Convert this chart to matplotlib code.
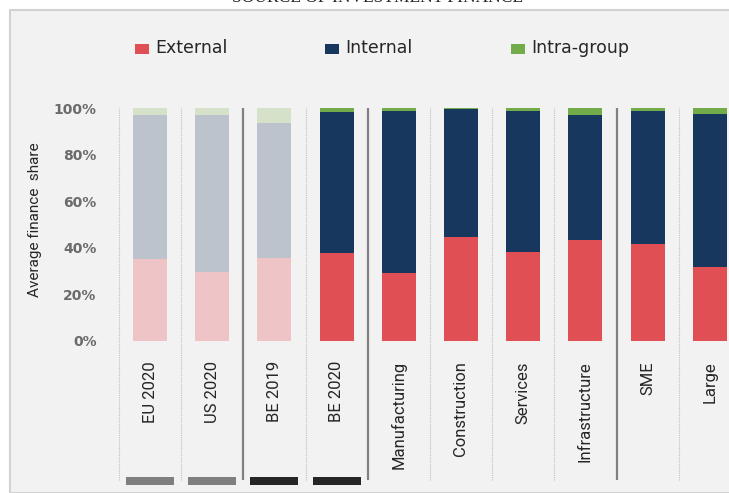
import matplotlib
matplotlib.use("Agg")
import matplotlib.pyplot as plt
from matplotlib.patches import Rectangle

# data (shares in %)
categories = ['EU 2020', 'US 2020', 'BE 2019', 'BE 2020', 'Manufacturing',
              'Construction', 'Services', 'Infrastructure', 'SME', 'Large']
external = [35.1, 29.8, 35.7, 37.8, 29.1, 44.6, 38.4, 43.4, 41.8, 31.7]
internal = [62.0, 67.4, 58.1, 60.7, 69.9, 55.0, 60.5, 53.7, 57.1, 66.0]
intra_group = [2.9, 2.8, 6.2, 1.5, 1.0, 0.4, 1.1, 2.9, 1.1, 2.3]
faded = [True, True, True, False, False, False, False, False, False, False]
groups = [0, 0, 1, 1, 2, 2, 2, 2, 3, 3]
y_ticks = [0, 20, 40, 60, 80, 100]
marker_colors = ['#7f7f7f', '#7f7f7f', '#262626', '#262626']
series_names = ['External', 'Internal', 'Intra-group']

COL_EXT = ('#e04f54', '#efc4c6')
COL_INT = ('#17375e', '#bcc3cc')
COL_INTRA = ('#72ab4a', '#d5e2c9')

W, H = 729, 493
fig = plt.figure(figsize=(W / 100, H / 100), dpi=100, facecolor='white')

# grey panel behind the chart
fig.patches.append(Rectangle((10 / W, 0), 1, 1 - 10 / H, transform=fig.transFigure,
                             facecolor='#f2f2f2', edgecolor='#d2d2d2', linewidth=1.5,
                             zorder=-5))
# title, mostly cropped off in the reference
fig.text(377 / W, 1 - 2 / H, 'SOURCE OF INVESTMENT FINANCE', ha='center', va='baseline',
         family='Liberation Serif', fontsize=12.5, color='#222222')

# axes geometry: 0% at y=341px, 100% at y=108px, category spacing 62.2px
px_per_pct = (341 - 108.3) / 100
px_per_cat = 62.2
ax_left, ax_right, ax_top, ax_bot = 105, 729, 100, 490
ax = fig.add_axes([ax_left / W, 1 - ax_bot / H, (ax_right - ax_left) / W, (ax_bot - ax_top) / H])
ax.set_facecolor('none')
ax.set_zorder(2)
ax.set_xlim(-(150 - ax_left) / px_per_cat, (ax_right - 150) / px_per_cat)
ax.set_ylim(-(ax_bot - 341) / px_per_pct, (341 - ax_top) / px_per_pct)
for s in ax.spines.values():
    s.set_visible(False)

x = list(range(len(categories)))
bw = 34 / px_per_cat
c_ext = [COL_EXT[f] for f in faded]
c_int = [COL_INT[f] for f in faded]
c_intra = [COL_INTRA[f] for f in faded]
bottom_int = external
bottom_intra = [e + i for e, i in zip(external, internal)]
ax.bar(x, external, bw, color=c_ext, zorder=3)
ax.bar(x, internal, bw, bottom=bottom_int, color=c_int, zorder=3)
ax.bar(x, intra_group, bw, bottom=bottom_intra, color=c_intra, zorder=3)

# separators: solid between groups, dotted within
line_bot = -(480 - 341) / px_per_pct
ax.vlines(-0.5, line_bot, 100, color='#c0c0c0', lw=0.8, linestyles=(0, (1, 1)), zorder=2)
for i in range(1, len(categories)):
    if groups[i] != groups[i - 1]:
        ax.vlines(i - 0.5, line_bot, 100, color='#808080', lw=1.6, zorder=2)
    else:
        ax.vlines(i - 0.5, line_bot, 100, color='#c0c0c0', lw=0.8,
                  linestyles=(0, (1, 1)), zorder=2)

# small markers under the comparison bars
mk_bot = -(485 - 341) / px_per_pct
ax.bar(x[:len(marker_colors)], 8 / px_per_pct, 48 / px_per_cat, bottom=mk_bot,
       color=marker_colors, zorder=3)

# category labels
lab_top = -(361 - 341) / px_per_pct
for xi, name in zip(x, categories):
    ax.text(xi, lab_top, name, rotation=90, ha='center', va='top',
            family='Roboto', fontsize=12, color='#262626')

ax.set_xticks([])
ax.set_yticks(y_ticks)
ax.set_yticklabels([f'{v}%' for v in y_ticks], family='DejaVu Sans', fontsize=10,
                   fontweight='bold', color='#6b6b6b')
ax.tick_params(axis='y', length=0, pad=6)

fig.text(35 / W, 1 - 220 / H, 'Average finance  share', rotation=90, ha='center',
         va='center', family='Roboto', fontsize=11, color='#262626')

# legend, laid out by hand like the original
legend_x = [135, 325, 511]
for lx, name, col in zip(legend_x, series_names, [COL_EXT[0], COL_INT[0], COL_INTRA[0]]):
    fig.patches.append(Rectangle((lx / W, 1 - 54 / H), 14 / W, 10 / H,
                                 transform=fig.transFigure, facecolor=col, zorder=3))
    fig.text((lx + 20) / W, 1 - 48 / H, name, ha='left', va='center',
             family='DejaVu Sans', fontsize=12.5, color='#262626')

fig.savefig('out.png', dpi=100, facecolor='white')
